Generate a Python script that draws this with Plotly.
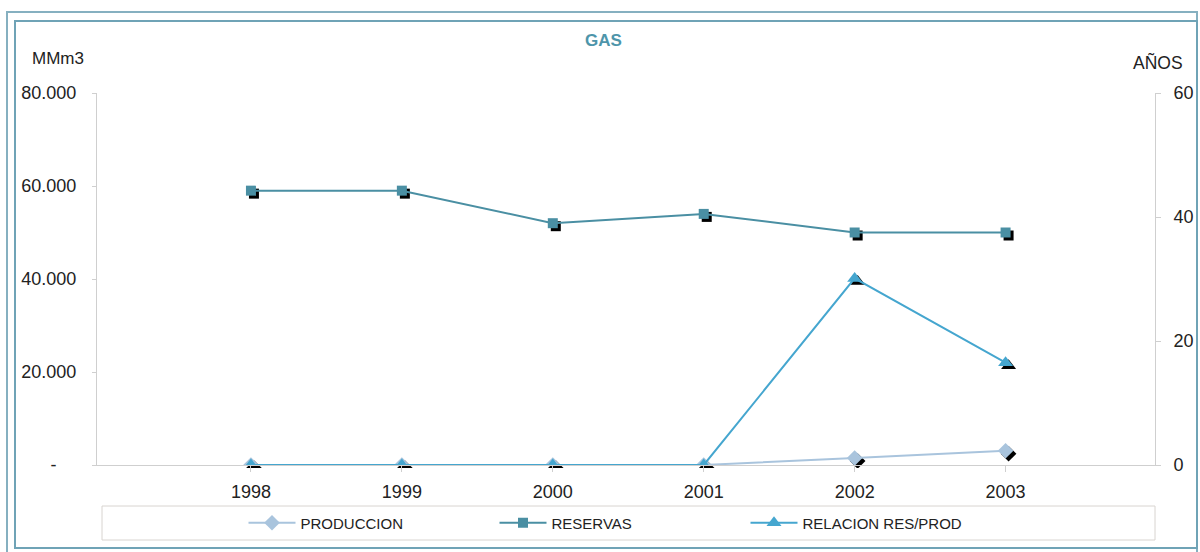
import plotly.graph_objects as go

# ---- data ----
years = ["1998", "1999", "2000", "2001", "2002", "2003"]
produccion = [0, 0, 0, 0, 1500, 3050]            # MMm3
reservas = [59000, 59000, 52000, 54000, 50000, 50000]  # MMm3
relacion = [0, 0, 0, 0, 30.1, 16.5]              # años

left_ticks = [0, 20000, 40000, 60000, 80000]
left_labels = ["-\u00a0\u00a0\u00a0\u00a0", "20.000", "40.000", "60.000", "80.000"]
right_ticks = [0, 20, 40, 60]

# ---- geometry ----
W, H = 1200, 552
L, R, T, B = 97, 42, 93, 84
PW = W - L - R
PH = H - T - B
SH = 3  # marker shadow offset in px
sx = SH / PW
sy = SH / PH
XR = [-1.02, 5.99]


def px(x):
    return (x - L) / PW


def py(y):
    return (H - B - y) / PH


C_PROD = "#a9c4dd"
C_RES = "#4a8fa3"
C_REL = "#45a6cf"
AX = "#cfcfcf"
FONT = "Liberation Sans, Arial, sans-serif"

fig = go.Figure()

# shadows (drawn first, on shifted axes)
fig.add_trace(go.Scatter(x=years, y=produccion, mode="markers", xaxis="x", yaxis="y",
                         marker=dict(symbol="diamond", size=12, color="black"),
                         showlegend=False, hoverinfo="skip"))
fig.add_trace(go.Scatter(x=years, y=reservas, mode="markers", xaxis="x", yaxis="y",
                         marker=dict(symbol="square", size=10, color="black"),
                         showlegend=False, hoverinfo="skip"))
fig.add_trace(go.Scatter(x=years, y=relacion, mode="markers", xaxis="x", yaxis="y4",
                         marker=dict(symbol="triangle-up", size=13, color="black"),
                         showlegend=False, hoverinfo="skip"))

# main series
fig.add_trace(go.Scatter(x=years, y=produccion, name="PRODUCCION", mode="lines+markers",
                         xaxis="x2", yaxis="y2",
                         line=dict(color=C_PROD, width=2),
                         marker=dict(symbol="diamond", size=12, color=C_PROD)))
fig.add_trace(go.Scatter(x=years, y=reservas, name="RESERVAS", mode="lines+markers",
                         xaxis="x2", yaxis="y2",
                         line=dict(color=C_RES, width=2),
                         marker=dict(symbol="square", size=10, color=C_RES)))
fig.add_trace(go.Scatter(x=years, y=relacion, name="RELACION RES/PROD", mode="lines+markers",
                         xaxis="x2", yaxis="y3",
                         line=dict(color=C_REL, width=2),
                         marker=dict(symbol="triangle-up", size=13, color=C_REL)))

hidden = dict(visible=False, fixedrange=True, automargin=False)

fig.update_layout(
    width=W, height=H,
    margin=dict(l=L, r=R, t=T, b=B, pad=0, autoexpand=False),
    paper_bgcolor="white", plot_bgcolor="rgba(0,0,0,0)",
    font=dict(family=FONT, size=18, color="#222222"),
    showlegend=True,
    xaxis=dict(type="category", range=XR, domain=[sx, 1], anchor="y", **hidden),
    yaxis=dict(range=[0, 80000], domain=[0, 1 - sy], anchor="x", **hidden),
    yaxis4=dict(range=[0, 60], overlaying="y", anchor="x", **hidden),
    xaxis2=dict(type="category", range=XR, domain=[0, 1 - sx], anchor="y2", automargin=False,
                showline=True, linecolor=AX, linewidth=1, showgrid=False, zeroline=False,
                ticks="outside", ticklen=6, tickcolor=AX, ticklabelstandoff=4,
                tickfont=dict(size=18, color="#222222")),
    yaxis2=dict(range=[0, 80000], domain=[sy, 1], anchor="x2", automargin=False,
                tickvals=left_ticks, ticktext=left_labels,
                showline=True, linecolor=AX, linewidth=1, showgrid=False, zeroline=False,
                ticks="outside", ticklen=4, tickcolor=AX, ticklabelstandoff=12,
                tickfont=dict(size=18, color="#222222")),
    yaxis3=dict(range=[0, 60], overlaying="y2", side="right", anchor="x2", automargin=False,
                tickvals=right_ticks,
                showline=True, linecolor=AX, linewidth=1, showgrid=False, zeroline=False,
                ticks="outside", ticklen=5, tickcolor=AX, ticklabelstandoff=9,
                tickfont=dict(size=18, color="#222222")),
    legend=dict(orientation="h", x=px(620), y=py(523), xanchor="center", yanchor="middle",
                entrywidth=189, itemwidth=47, bgcolor="rgba(0,0,0,0)", borderwidth=0,
                font=dict(size=15, color="#222222"), traceorder="normal"),
)

# frame, legend box
shapes = [
    dict(type="rect", xref="paper", yref="paper", x0=px(7), x1=px(1197), y0=py(12), y1=py(560),
         line=dict(color="#86b0c0", width=2), layer="below"),
    dict(type="rect", xref="paper", yref="paper", x0=px(15), x1=px(1197), y0=py(21), y1=py(548),
         line=dict(color="#6fa3b6", width=2), layer="below"),
    dict(type="rect", xref="paper", yref="paper", x0=px(102), x1=px(1155), y0=py(506), y1=py(540),
         line=dict(color="#d8d4d0", width=1), layer="below"),
]
fig.update_layout(shapes=shapes)

fig.add_annotation(text="<b>GAS</b>", xref="paper", yref="paper", x=px(603), y=py(40),
                   showarrow=False, font=dict(size=17, color="#4e95aa"),
                   xanchor="center", yanchor="middle")
fig.add_annotation(text="MMm3", xref="paper", yref="paper", x=px(30), y=py(58),
                   showarrow=False, font=dict(size=17, color="#222222"),
                   xanchor="left", yanchor="middle")
fig.add_annotation(text="AÑOS", xref="paper", yref="paper", x=px(1131), y=py(62),
                   showarrow=False, font=dict(size=17.5, color="#222222"),
                   xanchor="left", yanchor="middle")

fig.write_html("out.html")
